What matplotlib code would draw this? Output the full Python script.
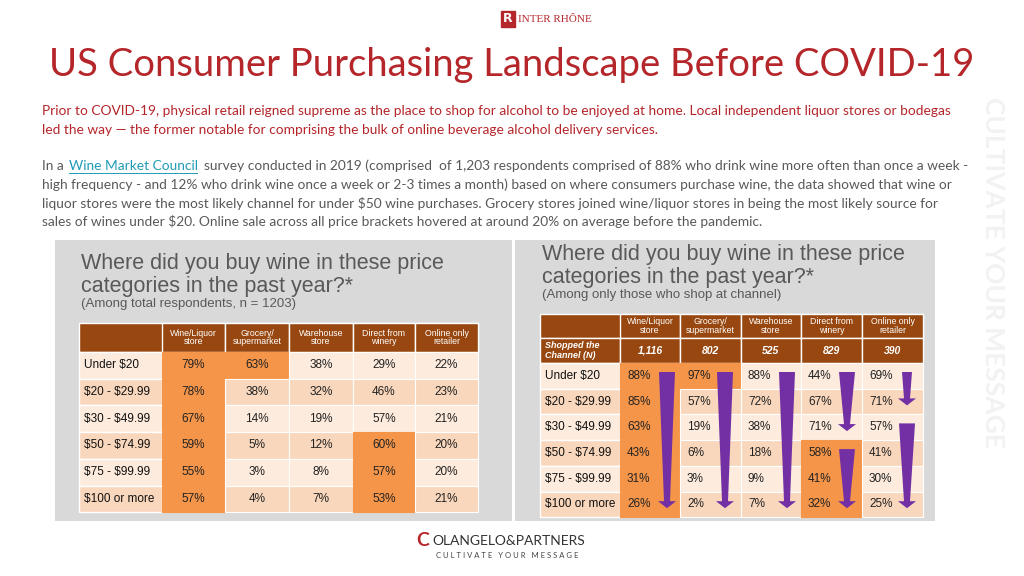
import matplotlib
matplotlib.use("Agg")
import matplotlib.pyplot as plt
from matplotlib.patches import Rectangle, Polygon

rows = ["Under $20", "$20 - $29.99", "$30 - $49.99", "$50 - $74.99", "$75 - $99.99", "$100 or more"]
channels = ["Wine/Liquor\nstore", "Grocery/\nsupermarket", "Warehouse\nstore", "Direct from\nwinery", "Online only\nretailer"]
left_vals = [[79, 63, 38, 29, 22], [78, 38, 32, 46, 23], [67, 14, 19, 57, 21],
             [59, 5, 12, 60, 20], [55, 3, 8, 57, 20], [57, 4, 7, 53, 21]]
left_hi = [[1, 1, 0, 0, 0], [1, 0, 0, 0, 0], [1, 0, 0, 0, 0],
           [1, 0, 0, 1, 0], [1, 0, 0, 1, 0], [1, 0, 0, 1, 0]]
right_n = ["1,116", "802", "525", "829", "390"]
right_vals = [[88, 97, 88, 44, 69], [85, 57, 72, 67, 71], [63, 19, 38, 71, 57],
              [43, 6, 18, 58, 41], [31, 3, 9, 41, 30], [26, 2, 7, 32, 25]]
right_hi = left_hi
# arrows: (column, start row, end row)
arrows = [(0, 0, 5), (1, 0, 5), (2, 0, 5), (3, 0, 2), (3, 3, 5), (4, 0, 1), (4, 2, 5)]

RED = "#B5262B"; GRAY = "#595959"; BROWN = "#97470F"; ORANGE = "#F4954A"
LIGHT1 = "#FDEBDD"; LIGHT2 = "#F9D7BC"; PURPLE = "#7330A5"

fig = plt.figure(figsize=(10.24, 5.76), dpi=100)
ax = fig.add_axes([0, 0, 1, 1])
ax.set_xlim(0, 1024); ax.set_ylim(576, 0); ax.axis("off")
F = ["Lato", "DejaVu Sans"]
A = ["Liberation Sans", "DejaVu Sans"]

def T(*a, **k):
    k.setdefault("parse_math", False)
    return ax.text(*a, **k)

T(508, 19, "R", color="white", fontsize=9, ha="center", va="center", fontweight="bold",
  bbox=dict(boxstyle="square,pad=0.15", fc=RED, ec=RED))
T(518, 19, "INTER RHÔNE", color=RED, fontsize=8, ha="left", va="center", family="Liberation Serif")
T(512, 65, "US Consumer Purchasing Landscape Before COVID-19", color=RED, fontsize=27.5,
  ha="center", va="center", family=F)
T(993, 272, "CULTIVATE YOUR MESSAGE", color="#F2F2F2", fontsize=19, rotation=-90,
  ha="center", va="center", family=F, fontweight="bold")

FS = 9.95
p1 = ["Prior to COVID-19, physical retail reigned supreme as the place to shop for alcohol to be enjoyed at home. Local independent liquor stores or bodegas",
      "led the way — the former notable for comprising the bulk of online beverage alcohol delivery services."]
for i, s in enumerate(p1):
    T(42, 111 + 18.5 * i, s, color=RED, fontsize=FS, va="center", family=F)
p2 = ["survey conducted in 2019 (comprised  of 1,203 respondents comprised of 88% who drink wine more often than once a week -",
      "high frequency - and 12% who drink wine once a week or 2-3 times a month) based on where consumers purchase wine, the data showed that wine or",
      "liquor stores were the most likely channel for under $50 wine purchases. Grocery stores joined wine/liquor stores in being the most likely source for",
      "sales of wines under $20. Online sale across all price brackets hovered at around 20% on average before the pandemic."]
T(42, 166, "In a", color=GRAY, fontsize=FS, va="center", family=F)
T(69, 166, "Wine Market Council", color="#1F9BB5", fontsize=FS, va="center", family=F)
ax.plot([69, 197], [173, 173], color="#1F9BB5", lw=0.7)
T(204, 166, p2[0], color=GRAY, fontsize=FS, va="center", family=F)
for i, s in enumerate(p2[1:]):
    T(42, 185 + 18.5 * i, s, color=GRAY, fontsize=FS, va="center", family=F)

def table(x0, cx, hy, rowy, vals, hi, title_y, title, sub, nrow=None):
    ax.add_patch(Rectangle((x0, 240), 457 if x0 < 500 else 420, 281, fc="#D9D9D9", ec="none"))
    T(cx[0] + 2, title_y, title, fontsize=15.5, color=GRAY, va="top", family=A, linespacing=1.15)
    T(cx[0] + 2, title_y + 45, sub, fontsize=9.5, color=GRAY, va="top", family=A)
    ax.add_patch(Rectangle((cx[0], hy[0]), cx[-1] - cx[0], hy[1] - hy[0], fc=BROWN, ec="white", lw=1))
    for j, ch in enumerate(channels):
        ax.add_patch(Rectangle((cx[j + 1], hy[0]), cx[j + 2] - cx[j + 1], hy[1] - hy[0], fc=BROWN, ec="white", lw=1))
        T((cx[j + 1] + cx[j + 2]) / 2, (hy[0] + hy[1]) / 2, ch, color="white", fontsize=6.3,
          ha="center", va="center", family=A, linespacing=1.0)
    top = hy[1]
    if nrow is not None:
        ax.add_patch(Rectangle((cx[0], top), cx[1] - cx[0], 25, fc=BROWN, ec="white", lw=1))
        T(cx[0] + 5, top + 12.5, "Shopped the\nChannel (N)", color="white", fontsize=6.5, style="italic",
          fontweight="bold", va="center", family=A, linespacing=1.0)
        for j, n in enumerate(nrow):
            ax.add_patch(Rectangle((cx[j + 1], top), cx[j + 2] - cx[j + 1], 25, fc=BROWN, ec="white", lw=1))
            T((cx[j + 1] + cx[j + 2]) / 2, top + 12.5, n, color="white", fontsize=7.5, style="italic",
              fontweight="bold", ha="center", va="center", family=A)
        top += 25
    for i, r in enumerate(rows):
        y = top + i * rowy
        bg = LIGHT1 if i % 2 == 0 else LIGHT2
        ax.add_patch(Rectangle((cx[0], y), cx[1] - cx[0], rowy, fc=bg, ec="white", lw=1))
        T(cx[0] + 5, y + rowy / 2, r, fontsize=8.5, va="center", family=A, color="#111111")
        for j in range(5):
            c = ORANGE if hi[i][j] else bg
            ax.add_patch(Rectangle((cx[j + 1], y), cx[j + 2] - cx[j + 1], rowy, fc=c, ec=c if hi[i][j] else "white", lw=0.8))
            if nrow is None:
                T((cx[j + 1] + cx[j + 2]) / 2, y + rowy / 2, f"{vals[i][j]}%", fontsize=8.5,
                  ha="center", va="center", family=A, color="#222222")
            else:
                T(cx[j + 1] + 7, y + rowy / 2, f"{vals[i][j]}%", fontsize=8.5,
                  ha="left", va="center", family=A, color="#222222")
    return top

table(55, [79, 162, 225, 289, 353, 415, 478], (323, 352), 26.7, left_vals, left_hi, 253,
      "Where did you buy wine in these price\ncategories in the past year?*", "(Among total respondents, n = 1203)")
rowy = 25.7
top = table(515, [540, 620, 680, 741, 801, 862, 923], (314, 338), rowy, right_vals, right_hi, 244,
            "Where did you buy wine in these price\ncategories in the past year?*", "(Among only those who shop at channel)",
            nrow=right_n)
colx = [667, 725, 787, 847, 907]
for c, r0, r1 in arrows:
    x = colx[c]
    y0 = top + r0 * rowy + 9
    y1 = top + (r1 + 1) * rowy - 9
    hw0 = 8 if r1 - r0 > 1 else 5
    ax.add_patch(Polygon([(x - hw0, y0), (x + hw0, y0), (x + 3, y1 - 7), (x + 9, y1 - 7), (x, y1),
                          (x - 9, y1 - 7), (x - 3, y1 - 7)], closed=True, fc=PURPLE, ec="none"))

T(423, 541, "C", color=RED, fontsize=14, ha="center", va="center", fontweight="bold", family=F)
T(432, 541, "OLANGELO&PARTNERS", color="#333333", fontsize=10, ha="left", va="center", family=F)
T(507, 556, "C U L T I V A T E   Y O U R   M E S S A G E", color="#444444", fontsize=5.5, ha="center", va="center", family=F)

fig.savefig("out.png", dpi=100)
